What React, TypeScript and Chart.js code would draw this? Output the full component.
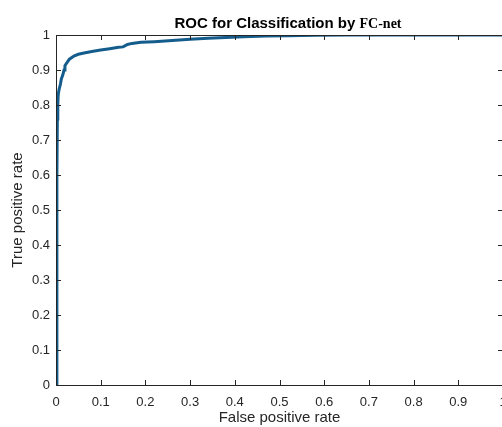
import React, { useEffect, useRef } from "react";
import { Chart, registerables } from "chart.js";

Chart.register(...registerables);

const fpr = [0, 0.002, 0.002, 0.003, 0.004, 0.005, 0.007, 0.01, 0.012, 0.015, 0.018, 0.02, 0.025, 0.03, 0.04, 0.05, 0.06, 0.08, 0.1, 0.12, 0.14, 0.15, 0.16, 0.17, 0.19, 0.22, 0.26, 0.3, 0.34, 0.38, 0.42, 0.47, 0.52, 0.58, 0.65, 1.0];
const tpr = [0, 0, 0.6, 0.76, 0.8, 0.83, 0.845, 0.86, 0.875, 0.885, 0.9, 0.912, 0.922, 0.931, 0.94, 0.945, 0.948, 0.953, 0.957, 0.961, 0.965, 0.966, 0.973, 0.976, 0.979, 0.981, 0.984, 0.988, 0.991, 0.993, 0.995, 0.997, 0.998, 0.999, 1.0, 1.0];
const xTickLabels = ["0", "0.1", "0.2", "0.3", "0.4", "0.5", "0.6", "0.7", "0.8", "0.9", "1"];
const yTickLabels = ["0", "0.1", "0.2", "0.3", "0.4", "0.5", "0.6", "0.7", "0.8", "0.9", "1"];
const titleMain = "ROC for Classification by ";
const titleNet = "FC-net";
const xTitle = "False positive rate";
const yTitle = "True positive rate";

const AXIS = "#262626";
const SANS = "'Liberation Sans', Arial, sans-serif";
const SERIF = "'Liberation Serif', 'Times New Roman', serif";

const boxPlugin = {
  id: "matlabBox",
  afterDatasetsDraw(chart: any) {
    const { ctx, chartArea, scales } = chart;
    const { left, right, top, bottom } = chartArea;
    ctx.save();
    ctx.strokeStyle = AXIS;
    ctx.lineWidth = 1;
    ctx.beginPath();
    ctx.rect(Math.round(left) + 0.5, Math.round(top) + 0.5, Math.round(right - left), Math.round(bottom - top));
    ctx.stroke();
    const tl = 5;
    ctx.beginPath();
    scales.x.ticks.forEach((t: any) => {
      const px = Math.round(scales.x.getPixelForValue(t.value)) + 0.5;
      ctx.moveTo(px, bottom);
      ctx.lineTo(px, bottom - tl);
      ctx.moveTo(px, top);
      ctx.lineTo(px, top + tl);
    });
    scales.y.ticks.forEach((t: any) => {
      const py = Math.round(scales.y.getPixelForValue(t.value)) + 0.5;
      ctx.moveTo(left, py);
      ctx.lineTo(left + tl, py);
      ctx.moveTo(right, py);
      ctx.lineTo(right - tl, py);
    });
    ctx.stroke();
    // title with mixed fonts
    ctx.fillStyle = "#000";
    ctx.textBaseline = "alphabetic";
    ctx.textAlign = "left";
    const f1 = "bold 15px " + SANS;
    const f2 = "bold 14px " + SERIF;
    ctx.font = f1;
    const w1 = ctx.measureText(titleMain).width;
    ctx.font = f2;
    const w2 = ctx.measureText(titleNet).width;
    const cx = 288;
    const x0 = cx - (w1 + w2) / 2;
    const by = 28;
    ctx.font = f1;
    ctx.fillText(titleMain, x0, by);
    ctx.font = f2;
    ctx.fillText(titleNet, x0 + w1, by);
    ctx.restore();
  },
};

export default function App() {
  const ref = useRef<HTMLCanvasElement>(null);
  useEffect(() => {
    if (!ref.current) return;
    const chart = new Chart(ref.current, {
      type: "line",
      data: {
        datasets: [
          {
            data: fpr.map((x, i) => ({ x, y: tpr[i] })),
            borderColor: "#145c8c",
            borderWidth: 3,
            pointRadius: 0,
            tension: 0,
            fill: false,
          },
        ],
      },
      options: {
        animation: false,
        responsive: false,
        maintainAspectRatio: false,
        layout: { padding: { top: 35, right: 17, bottom: 0, left: 0 } },
        plugins: { legend: { display: false }, title: { display: false }, tooltip: { enabled: false } },
        scales: {
          x: {
            type: "linear",
            min: 0,
            max: 1,
            afterBuildTicks: (s: any) => {
              s.ticks = xTickLabels.map((l) => ({ value: parseFloat(l) }));
            },
            afterFit: (s: any) => {
              s.height = 42;
            },
            ticks: {
              autoSkip: false,
              maxRotation: 0,
              padding: 10,
              color: AXIS,
              font: { family: SANS, size: 13 },
              callback: (v: any, i: number) => xTickLabels[i],
            },
            grid: { display: false, drawTicks: false },
            border: { display: false },
            title: {
              display: true,
              text: xTitle,
              color: AXIS,
              font: { family: SANS, size: 15 },
              padding: { top: 0, bottom: 0 },
            },
          },
          y: {
            type: "linear",
            min: 0,
            max: 1,
            afterBuildTicks: (s: any) => {
              s.ticks = yTickLabels.map((l) => ({ value: parseFloat(l) }));
            },
            afterFit: (s: any) => {
              s.width = 56;
            },
            ticks: {
              autoSkip: false,
              padding: 6,
              color: AXIS,
              font: { family: SANS, size: 13 },
              callback: (v: any, i: number) => yTickLabels[i],
            },
            grid: { display: false, drawTicks: false },
            border: { display: false },
            title: {
              display: true,
              text: yTitle,
              color: AXIS,
              font: { family: SANS, size: 15 },
              padding: { top: 9, bottom: 0 },
            },
          },
        },
      },
      plugins: [boxPlugin],
    });
    return () => chart.destroy();
  }, []);
  return (
    <div style={{ position: "fixed", left: 0, top: 0, width: 502, height: 427, overflow: "hidden", background: "#fff" }}>
      <canvas ref={ref} width={520} height={427} style={{ display: "block", width: 520, height: 427 }} />
    </div>
  );
}
